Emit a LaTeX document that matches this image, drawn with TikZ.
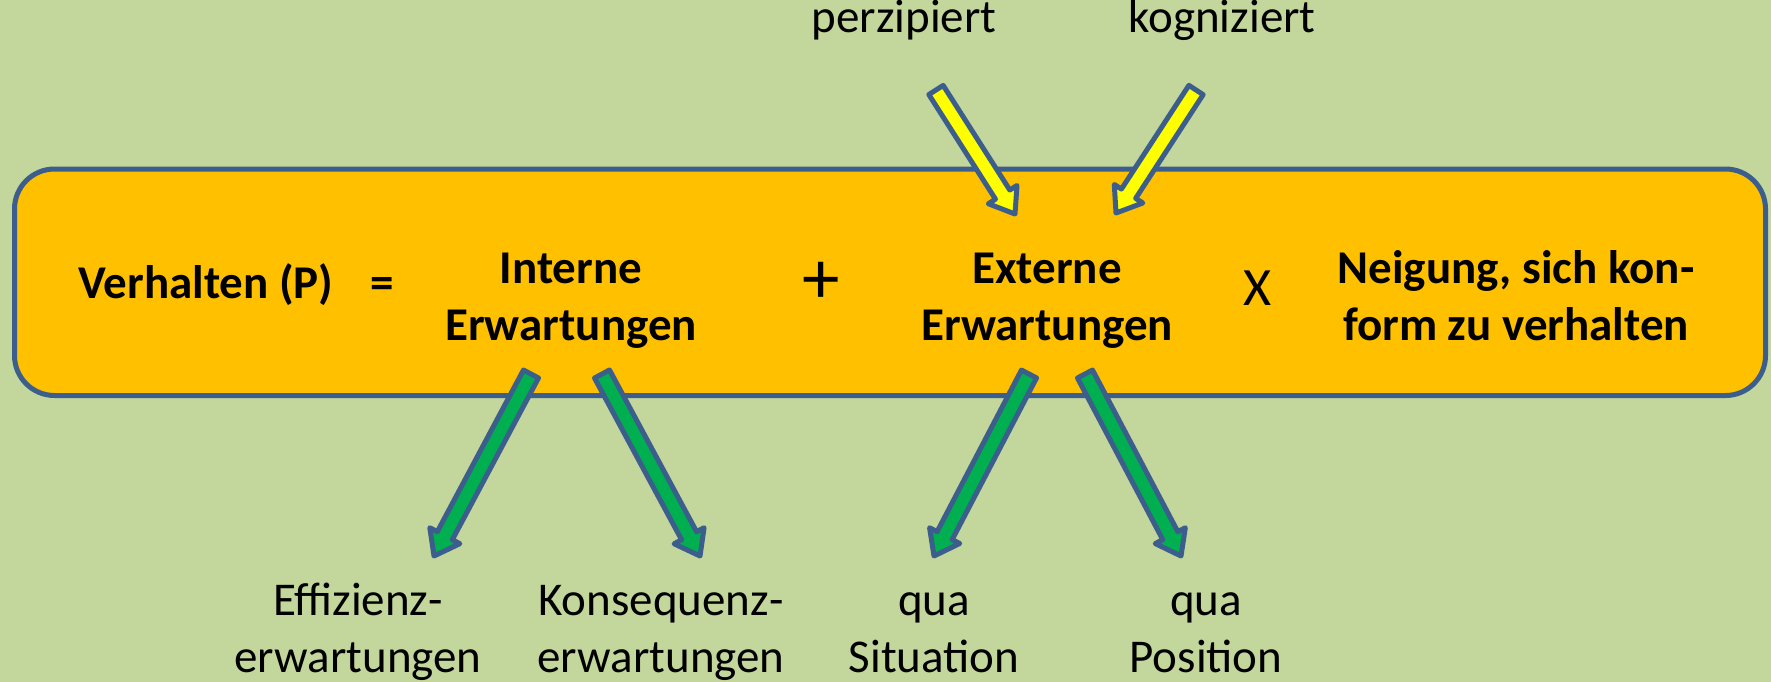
\documentclass[tikz,border=0pt]{standalone}
\usepackage{fontspec}
\setmainfont{Carlito}
\usetikzlibrary{calc}

\definecolor{bgolive}{HTML}{C3D69B}
\definecolor{boxgold}{HTML}{FFC000}
\definecolor{edgeblue}{HTML}{3B5E8C}
\definecolor{arrowyellow}{HTML}{FFFF00}
\definecolor{arrowgreen}{HTML}{00B050}

\tikzset{
  lbl/.style={inner sep=0pt, anchor=base, font=\fontsize{47}{57}\selectfont},
  boldlbl/.style={inner sep=0pt, anchor=base, font=\fontsize{47}{57}\selectfont\bfseries},
  termbox/.style={draw=edgeblue, line width=5pt, fill=boxgold, rounded corners=40pt},
  blockarrow/.style={draw=edgeblue, line width=5pt, line join=round},
}

% block arrow from tail #1 to tip #2, filled with colour #3
\newcommand\fatarrow[3]{%
  \coordinate (#1-#2-b) at ($(#2)!23pt!(#1)$);
  \path[blockarrow, fill=#3]
    ($(#1)!8.5pt!90:(#2)$) -- ($(#1-#2-b)!8.5pt!90:(#2)$) -- ($(#1-#2-b)!17pt!90:(#2)$) -- (#2)
    -- ($(#1-#2-b)!17pt!-90:(#2)$) -- ($(#1-#2-b)!8.5pt!-90:(#2)$) -- ($(#1)!8.5pt!-90:(#2)$) -- cycle;
}

\begin{document}
\begin{tikzpicture}[x=1pt, y=-1pt]
  % background
  \fill[bgolive] (0,0) rectangle (1771,682);
  \useasboundingbox (0,0) rectangle (1771,682);

  % the formula bar
  \draw[termbox] (14.5,169) rectangle (1765.5,395.5);

  % formula terms
  \node[boldlbl] (verh) at (206,298) {Verhalten (P)};
  \node[boldlbl] (eq) at (382,298) {=};
  \node[boldlbl] (intern) at (571,283) {\begin{tabular}[t]{@{}c@{}}Interne\\Erwartungen\end{tabular}};
  \node[inner sep=0pt, font=\fontsize{75}{80}\selectfont] (plus) at (821,283) {+};
  \node[boldlbl] (extern) at (1047,283) {\begin{tabular}[t]{@{}c@{}}Externe\\Erwartungen\end{tabular}};
  \node[inner sep=0pt, anchor=base, font=\fontsize{54}{60}\selectfont] (times) at (1257,305) {X};
  \node[boldlbl] (neig) at (1516,283) {\begin{tabular}[t]{@{}c@{}}Neigung, sich kon-\\form zu verhalten\end{tabular}};

  % labels above
  \node[lbl] (perz) at (904,33) {perzipiert};
  \node[lbl] (kogn) at (1222,33) {kogniziert};

  % labels below
  \node[lbl] (eff) at (358,615) {\begin{tabular}[t]{@{}c@{}}Effizienz-\\erwartungen\end{tabular}};
  \node[lbl] (kons) at (661,615) {\begin{tabular}[t]{@{}c@{}}Konsequenz-\\erwartungen\end{tabular}};
  \node[lbl] (sit) at (934,615) {\begin{tabular}[t]{@{}c@{}}qua\\Situation\end{tabular}};
  \node[lbl] (pos) at (1206,615) {\begin{tabular}[t]{@{}c@{}}qua\\Position\end{tabular}};

  % arrow end points
  \coordinate (yA) at (936,90);   \coordinate (yAt) at (1015,214);
  \coordinate (yB) at (1196,90);  \coordinate (yBt) at (1116,213);
  \coordinate (gA) at (531,374);  \coordinate (gAt) at (434,556);
  \coordinate (gB) at (602,374);  \coordinate (gBt) at (700,556);
  \coordinate (gC) at (1029,374); \coordinate (gCt) at (934,556);
  \coordinate (gD) at (1085,374); \coordinate (gDt) at (1181,556);

  % influences on the external expectations
  \fatarrow{yA}{yAt}{arrowyellow}
  \fatarrow{yB}{yBt}{arrowyellow}

  % kinds of expectations
  \fatarrow{gA}{gAt}{arrowgreen}
  \fatarrow{gB}{gBt}{arrowgreen}
  \fatarrow{gC}{gCt}{arrowgreen}
  \fatarrow{gD}{gDt}{arrowgreen}
\end{tikzpicture}
\end{document}
